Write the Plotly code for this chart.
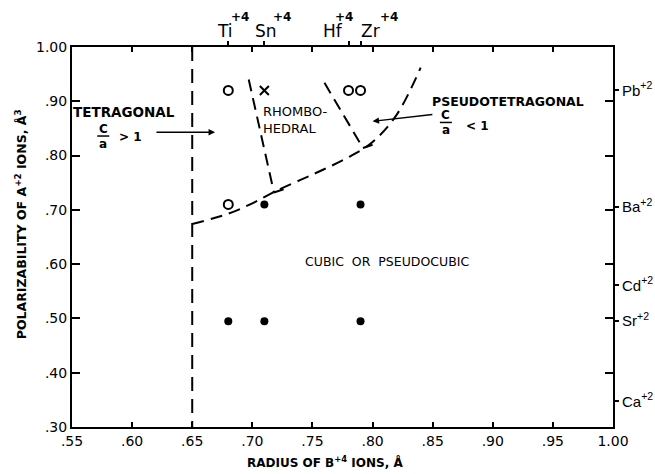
import plotly.graph_objects as go

# ---------------- data ----------------
x_tickvals = [0.55, 0.60, 0.65, 0.70, 0.75, 0.80, 0.85, 0.90, 0.95, 1.00]
x_ticktext = [".55", ".60", ".65", ".70", ".75", ".80", ".85", ".90", ".95", "1.00"]
y_tickvals = [0.30, 0.40, 0.50, 0.60, 0.70, 0.80, 0.90, 1.00]
y_ticktext = [".30", ".40", ".50", ".60", ".70", ".80", ".90", "1.00"]

b_ions = ["Ti", "Sn", "Hf", "Zr"]
b_radius = [0.68, 0.71, 0.78, 0.79]
a_ions = ["Pb", "Ba", "Cd", "Sr", "Ca"]
a_polar = [0.92, 0.705, 0.561, 0.495, 0.347]

open_x = [0.68, 0.68, 0.78, 0.79]
open_y = [0.92, 0.71, 0.92, 0.92]
filled_x = [0.71, 0.79, 0.68, 0.71, 0.79]
filled_y = [0.71, 0.71, 0.495, 0.495, 0.495]
cross_x = [0.71]
cross_y = [0.92]

tetra_x = [0.65, 0.65]
tetra_y = [1.00, 0.30]
cubic_x = [0.65, 0.68, 0.70, 0.72, 0.75, 0.78, 0.80, 0.82, 0.84]
cubic_y = [0.674, 0.693, 0.712, 0.735, 0.765, 0.797, 0.825, 0.875, 0.962]
rhombo1_x = [0.697, 0.718]
rhombo1_y = [0.940, 0.732]
rhombo2_x = [0.760, 0.792]
rhombo2_y = [0.934, 0.814]
foot1_x = [0.718, 0.726]
foot1_y = [0.732, 0.738]
foot2_x = [0.792, 0.800]
foot2_y = [0.814, 0.820]

FONT = "DejaVu Sans"
DASH = "12px,7px"

fig = go.Figure()

for xs, ys, dash in [(tetra_x, tetra_y, "14px,8px"), (cubic_x, cubic_y, DASH),
                     (rhombo1_x, rhombo1_y, DASH), (rhombo2_x, rhombo2_y, DASH)]:
    fig.add_trace(go.Scatter(x=xs, y=ys, mode="lines", line=dict(color="black", width=2, dash=dash),
                             line_shape="spline", showlegend=False, hoverinfo="skip"))
for xs, ys in [(foot1_x, foot1_y), (foot2_x, foot2_y)]:
    fig.add_trace(go.Scatter(x=xs, y=ys, mode="lines", line=dict(color="black", width=2),
                             showlegend=False, hoverinfo="skip"))

fig.add_trace(go.Scatter(x=open_x, y=open_y, mode="markers", showlegend=False,
                         marker=dict(symbol="circle-open", size=9, color="black", line=dict(width=2))))
fig.add_trace(go.Scatter(x=filled_x, y=filled_y, mode="markers", showlegend=False,
                         marker=dict(symbol="circle", size=8, color="black")))
fig.add_trace(go.Scatter(x=cross_x, y=cross_y, mode="markers", showlegend=False,
                         marker=dict(symbol="x-thin-open", size=9, color="black", line=dict(width=2))))
# dummy trace for secondary axes
fig.add_trace(go.Scatter(x=[None], y=[None], xaxis="x2", yaxis="y2", showlegend=False, hoverinfo="skip"))

axis_common = dict(showgrid=False, zeroline=False, showline=True, linecolor="black", linewidth=2,
                   ticks="inside", tickcolor="black", tickwidth=1.5, mirror="ticks", automargin=False,
                   tickfont=dict(family=FONT, size=14, color="black"))

fig.update_layout(
    width=655, height=474,
    margin=dict(l=72, r=42, t=47, b=47, autoexpand=False),
    paper_bgcolor="white", plot_bgcolor="white",
    xaxis=dict(range=[0.55, 1.00], tickvals=x_tickvals, ticktext=x_ticktext, ticklen=5, **axis_common),
    yaxis=dict(range=[0.30, 1.00], tickvals=y_tickvals, ticktext=y_ticktext, ticklen=8, **axis_common),
    xaxis2=dict(range=[0.55, 1.00], overlaying="x", side="top", tickvals=b_radius, ticks="outside",
                ticklen=5, tickwidth=1.5, tickcolor="black", showticklabels=False, showline=False,
                showgrid=False, zeroline=False, automargin=False),
    yaxis2=dict(range=[0.30, 1.00], overlaying="y", side="right", anchor="x", tickvals=a_polar,
                ticktext=[f"{n}<sup>+2</sup>" for n in a_ions], ticks="outside", ticklen=5,
                tickwidth=1.5, tickcolor="black", showline=False, showgrid=False, zeroline=False,
                automargin=False, tickfont=dict(family="Liberation Sans", size=15, color="black")),
)

# top ion labels
top_offsets = [-0.003, 0.001, -0.013, 0.008]
sup_offsets = [0.010, 0.015, -0.004, 0.024]
for name, r, o, so in zip(b_ions, b_radius, top_offsets, sup_offsets):
    fig.add_annotation(x=r + o, y=1.042, xref="x", yref="paper", text=name, showarrow=False,
                       xanchor="center", yanchor="middle",
                       font=dict(family=FONT, size=17, color="black"))
    fig.add_annotation(x=r + so, y=1.079, xref="x", yref="paper", text="<b>+4</b>", showarrow=False,
                       xanchor="center", yanchor="middle",
                       font=dict(family=FONT, size=12, color="black"))

def txt(x, y, t, size=13, bold=True, xanchor="center", **kw):
    fig.add_annotation(x=x, y=y, xref="x", yref="y", text=f"<b>{t}</b>" if bold else t,
                       showarrow=False, xanchor=xanchor, yanchor="middle",
                       font=dict(family=FONT, size=size, color="black"), **kw)

txt(0.593, 0.880, "TETRAGONAL", 13.5)
txt(0.576, 0.849, "C", 12)
txt(0.576, 0.822, "a", 12)
txt(0.599, 0.834, "&gt; 1", 12)
txt(0.7075, 0.866, "RHOMBO-<br>HEDRAL", 13, bold=False, xanchor="left", align="left")
txt(0.848, 0.900, "PSEUDOTETRAGONAL", 12.5, xanchor="left")
txt(0.861, 0.874, "C", 12)
txt(0.861, 0.847, "a", 12)
txt(0.887, 0.855, "&lt; 1", 12)
txt(0.812, 0.605, "CUBIC  OR  PSEUDOCUBIC", 12.5, bold=False)

fig.add_shape(type="line", xref="x", yref="y", x0=0.571, x1=0.581, y0=0.836, y1=0.836,
              line=dict(color="black", width=1.5))
fig.add_shape(type="line", xref="x", yref="y", x0=0.856, x1=0.866, y0=0.861, y1=0.861,
              line=dict(color="black", width=1.5))

# arrows
fig.add_annotation(x=0.669, y=0.843, ax=0.619, ay=0.843, xref="x", yref="y", axref="x", ayref="y",
                   text="", showarrow=True, arrowhead=2, arrowsize=1, arrowwidth=1.3, arrowcolor="black")
fig.add_annotation(x=0.800, y=0.863, ax=0.851, ay=0.876, xref="x", yref="y", axref="x", ayref="y",
                   text="", showarrow=True, arrowhead=2, arrowsize=1, arrowwidth=1.3, arrowcolor="black")

# axis titles
fig.add_annotation(x=-0.094, y=0.534, xref="paper", yref="paper", textangle=-90, showarrow=False,
                   xanchor="center", yanchor="middle",
                   text="<b>POLARIZABILITY OF A<sup>+2</sup> IONS, Å<sup>3</sup></b>",
                   font=dict(family=FONT, size=12.5, color="black"))
fig.add_annotation(x=0.468, y=-0.092, xref="paper", yref="paper", showarrow=False,
                   xanchor="center", yanchor="middle",
                   text="<b>RADIUS OF B<sup>+4</sup> IONS, Å</b>",
                   font=dict(family=FONT, size=12, color="black"))

fig.write_html("out.html")
